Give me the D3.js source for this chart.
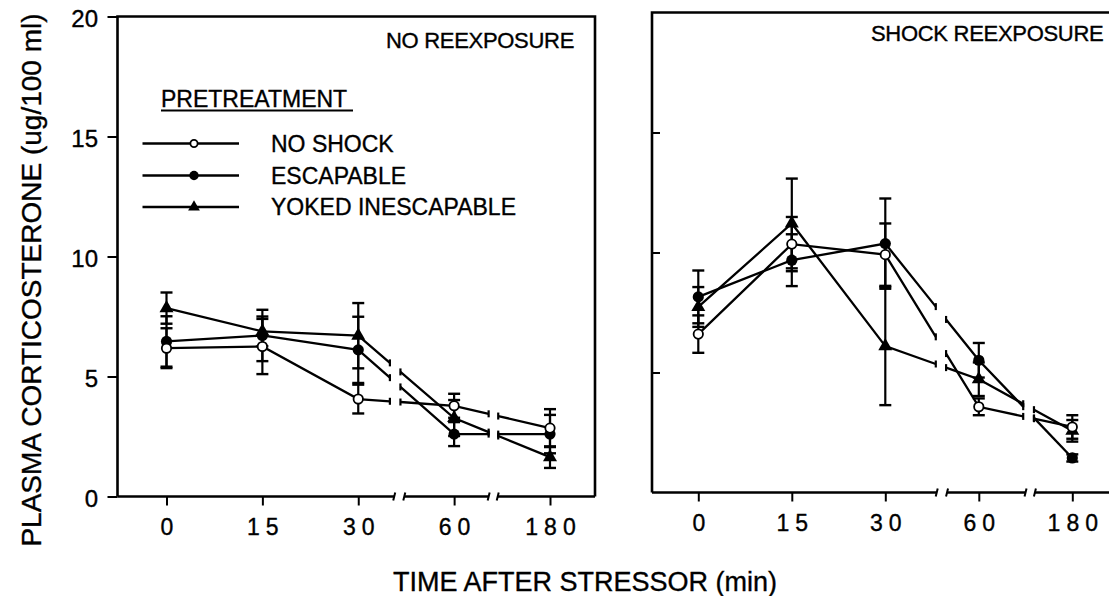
<!DOCTYPE html>
<html>
<head>
<meta charset="utf-8">
<script src="https://cdn.jsdelivr.net/npm/d3@7"></script>
<style>
body { margin: 0; background: #fff; }
svg { display: block; font-family: "Liberation Sans", Arial, Helvetica, sans-serif; }
svg text { stroke: #000; stroke-width: 0.35px; }
</style>
</head>
<body>
<svg id="chart" width="1109" height="596"></svg>
<script>
var times = ["0", "15", "30", "60", "180"];
var yTicks = [0, 5, 10, 15, 20];
var seriesNames = ["NO SHOCK", "ESCAPABLE", "YOKED INESCAPABLE"];
var seriesMarks = ["open", "filled", "triangle"];

// NO REEXPOSURE panel
var noShockNo = [6.18, 6.25, 4.06, 3.78, 2.85];
var noShockNoErr = [0.83, 1.15, 0.6, 0.5, 0.79];
var escNo = [6.46, 6.71, 6.11, 2.6, 2.6];
var escNoErr = [1.05, 1.07, 1.38, 0.5, 0.8];
var yokedNo = [7.85, 6.88, 6.7, 3.27, 1.64];
var yokedNoErr = [0.65, 0.62, 1.36, 0.75, 0.45];

// SHOCK REEXPOSURE panel
var noShockRe = [6.6, 10.35, 9.91, 3.57, 2.73];
var noShockReErr = [0.78, 1.13, 1.3, 0.35, 0.49];
var escRe = [8.15, 9.68, 10.37, 5.51, 1.44];
var escReErr = [1.1, 1.08, 1.88, 0.72, 0.15];
var yokedRe = [7.73, 11.21, 6.1, 4.72, 2.57];
var yokedReErr = [0.83, 1.87, 2.46, 0.7, 0.45];

var svg = d3.select("#chart");

var panels = [
  {title: "NO REEXPOSURE", left: 117.5, right: 595, top: 16.5, bottom: 496.5,
   x0: 166.5, x4: 550, labels: true, titleX: 386, titleY: 47.5,
   lineBreaks: [[2.33, 2.44], [3.36, 3.46]], axisBreaks: [[2.375, 2.48], [3.36, 3.455]],
   series: [[noShockNo, noShockNoErr], [escNo, escNoErr], [yokedNo, yokedNoErr]]},
  {title: "SHOCK REEXPOSURE", left: 652, right: 1160, top: 12.5, bottom: 492.5,
   x0: 698.3, x4: 1072.3, labels: false, titleX: 871, titleY: 41,
   lineBreaks: [[2.54, 2.65], [3.475, 3.59]], axisBreaks: [[2.55, 2.66], [3.5, 3.6]],
   series: [[noShockRe, noShockReErr], [escRe, escReErr], [yokedRe, yokedReErr]]}
];

function valAt(vals, t) {
  var i = Math.floor(t);
  if (i >= vals.length - 1) return vals[vals.length - 1];
  var f = t - i;
  return vals[i] + (vals[i + 1] - vals[i]) * f;
}

function drawMarker(g, kind, cx, cy, small) {
  if (kind == "open") {
    g.append("circle").attr("cx", cx).attr("cy", cy).attr("r", small ? 3.6 : 4.7)
      .attr("fill", "#fff").attr("stroke", "#000").attr("stroke-width", 1.8);
  } else if (kind == "filled") {
    g.append("circle").attr("cx", cx).attr("cy", cy).attr("r", small ? 4.7 : 5.6)
      .attr("fill", "#000");
  } else {
    g.append("path").attr("d", d3.symbol(d3.symbolTriangle, small ? 60 : 85)())
      .attr("transform", "translate(" + cx + "," + cy + ")")
      .attr("fill", "#000");
  }
}

panels.forEach(function(p) {
  var g = svg.append("g");
  var x = d3.scaleLinear().domain([0, times.length - 1]).range([p.x0, p.x4]);
  var y = d3.scaleLinear().domain([0, 20]).range([p.bottom, p.top]);

  // frame: left, top, right
  g.append("path")
    .attr("d", "M" + p.left + "," + p.bottom + "V" + p.top + "H" + p.right + "V" + p.bottom)
    .attr("fill", "none").attr("stroke", "#000").attr("stroke-width", 2.6);

  // broken bottom axis
  var ab = p.axisBreaks;
  var segs = [[p.left, x(ab[0][0])], [x(ab[0][1]), x(ab[1][0])], [x(ab[1][1]), p.right]];
  segs.forEach(function(s, i) {
    g.append("line").attr("x1", s[0]).attr("x2", s[1]).attr("y1", p.bottom).attr("y2", p.bottom)
      .attr("stroke", "#000").attr("stroke-width", 2.6);
    if (i > 0) {
      g.append("line").attr("x1", s[0] - 1).attr("x2", s[0] + 1)
        .attr("y1", p.bottom + 4).attr("y2", p.bottom - 4)
        .attr("stroke", "#000").attr("stroke-width", 2);
    }
    if (i < 2) {
      g.append("line").attr("x1", s[1] - 1).attr("x2", s[1] + 1)
        .attr("y1", p.bottom + 4).attr("y2", p.bottom - 4)
        .attr("stroke", "#000").attr("stroke-width", 2);
    }
  });

  // x ticks and labels
  var xAxis = g.append("g").attr("transform", "translate(0," + p.bottom + ")")
    .call(d3.axisBottom(x).tickValues(d3.range(times.length))
      .tickFormat(function(i) { return times[i]; })
      .tickSize(9).tickPadding(13));
  xAxis.select(".domain").remove();
  xAxis.selectAll("line").attr("stroke-width", 2);
  xAxis.selectAll("text").attr("font-size", 23).attr("font-family", null)
    .style("letter-spacing", "6px").attr("dx", 3).attr("fill", "#000");

  // y ticks
  if (p.labels) {
    var yAxis = g.append("g").attr("transform", "translate(" + p.left + ",0)")
      .call(d3.axisLeft(y).tickValues(yTicks).tickSize(10).tickPadding(9.5));
    yAxis.select(".domain").remove();
    yAxis.selectAll("line").attr("stroke-width", 2);
    yAxis.selectAll("text").attr("font-size", 24).attr("font-family", null)
      .attr("dy", 10).attr("fill", "#000");
  } else {
    var yAxisR = g.append("g").attr("transform", "translate(" + p.left + ",0)")
      .call(d3.axisRight(y).tickValues([5, 10, 15]).tickSize(8).tickFormat(""));
    yAxisR.select(".domain").remove();
    yAxisR.selectAll("line").attr("stroke-width", 2);
  }

  // panel title
  g.append("text").attr("x", p.titleX).attr("y", p.titleY)
    .attr("font-size", 22).style("letter-spacing", "-0.3px").text(p.title);

  var lineGen = d3.line()
    .x(function(d) { return x(d[0]); })
    .y(function(d) { return y(d[1]); });
  var lb = p.lineBreaks;
  var pieces = [[0, 1, 2, lb[0][0]], [lb[0][1], 3, lb[1][0]], [lb[1][1], 4]];
  var ends = [lb[0][0], lb[0][1], lb[1][0], lb[1][1]];

  // error bars
  p.series.forEach(function(s) {
    var vals = s[0], errs = s[1];
    vals.forEach(function(v, i) {
      var cx = x(i);
      g.append("line").attr("x1", cx).attr("x2", cx)
        .attr("y1", y(v - errs[i])).attr("y2", y(v + errs[i]))
        .attr("stroke", "#000").attr("stroke-width", 2.2);
      [v - errs[i], v + errs[i]].forEach(function(e) {
        g.append("line").attr("x1", cx - 6).attr("x2", cx + 6)
          .attr("y1", y(e)).attr("y2", y(e))
          .attr("stroke", "#000").attr("stroke-width", 2.4);
      });
    });
  });

  // lines with breaks
  p.series.forEach(function(s) {
    var vals = s[0];
    pieces.forEach(function(pc) {
      var pts = pc.map(function(t) { return [t, valAt(vals, t)]; });
      g.append("path").attr("d", lineGen(pts))
        .attr("fill", "none").attr("stroke", "#000").attr("stroke-width", 2.3);
    });
    ends.forEach(function(t) {
      var px = x(t), py = y(valAt(vals, t));
      g.append("line").attr("x1", px).attr("x2", px)
        .attr("y1", py - 3.5).attr("y2", py + 3.5)
        .attr("stroke", "#000").attr("stroke-width", 2.2);
    });
  });

  // markers
  [2, 1, 0].forEach(function(k) {
    var vals = p.series[k][0];
    vals.forEach(function(v, i) {
      drawMarker(g, seriesMarks[k], x(i), y(v), false);
    });
  });

  // legend in the first panel
  if (p.labels) {
    var lg = g.append("g");
    lg.append("text").attr("x", 161).attr("y", 107).attr("font-size", 23).text("PRETREATMENT");
    lg.append("line").attr("x1", 161).attr("x2", 353).attr("y1", 110.5).attr("y2", 110.5)
      .attr("stroke", "#000").attr("stroke-width", 1.8);
    var rowY = [143.5, 175.5, 207];
    seriesNames.forEach(function(name, k) {
      lg.append("line").attr("x1", 142.5).attr("x2", 239).attr("y1", rowY[k]).attr("y2", rowY[k])
        .attr("stroke", "#000").attr("stroke-width", 2.3);
      drawMarker(lg, seriesMarks[k], 194, rowY[k], true);
      lg.append("text").attr("x", 271).attr("y", rowY[k] + 8.3)
        .attr("font-size", 23).text(name);
    });
  }
});

// axis titles
svg.append("text")
  .attr("transform", "translate(41,280) rotate(-90)")
  .attr("text-anchor", "middle").attr("font-size", 28)
  .text("PLASMA CORTICOSTERONE (ug/100 ml)");
svg.append("text")
  .attr("x", 585).attr("y", 591)
  .attr("text-anchor", "middle").attr("font-size", 27)
  .text("TIME AFTER STRESSOR (min)");
</script>
</body>
</html>
